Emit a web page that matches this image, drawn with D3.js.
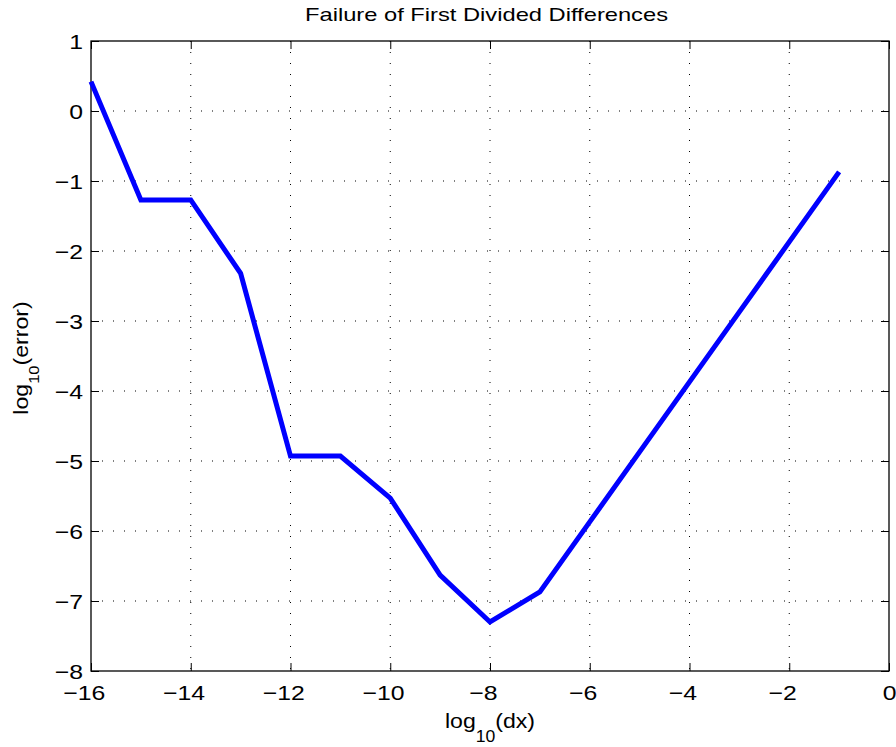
<!DOCTYPE html>
<html>
<head>
<meta charset="utf-8">
<script src="https://cdn.jsdelivr.net/npm/d3@7"></script>
<style>
  body { margin: 0; background: #fff; }
  svg { font-family: "Liberation Sans", Arial, sans-serif; }
</style>
</head>
<body>
<div id="chart"></div>
<script>
// data
const logDx = [-16, -15, -14, -13, -12, -11, -10, -9, -8, -7, -6, -5, -4, -3, -2, -1];
const logErr = [0.42, -1.27, -1.27, -2.32, -4.93, -4.93, -5.53, -6.63, -7.3, -6.87, -5.87, -4.87, -3.87, -2.87, -1.87, -0.87];
const xTicks = [-16, -14, -12, -10, -8, -6, -4, -2, 0];
const yTicks = [1, 0, -1, -2, -3, -4, -5, -6, -7, -8];

const svgWidth = 896;
const svgHeight = 747;
const margin = { top: 41, right: 7, bottom: 76, left: 91 };
const chartWidth = svgWidth - margin.left - margin.right;
const chartHeight = svgHeight - margin.top - margin.bottom;

const tickFont = 21;
const stretch = 1.18; // reference glyphs are a bit wider than Liberation Sans

const svg = d3.select("#chart").append("svg")
  .attr("width", svgWidth)
  .attr("height", svgHeight);

const chartGroup = svg.append("g")
  .attr("transform", `translate(${margin.left}, ${margin.top})`);

const xScale = d3.scaleLinear().domain([-16, 0]).range([0, chartWidth]);
const yScale = d3.scaleLinear().domain([-8, 1]).range([chartHeight, 0]);

const minus = v => String(v).replace("-", "\u2212");

function textW(str, size) {
  const t = svg.append("text").style("font-size", size + "px").text(str);
  const w = t.node().getComputedTextLength();
  t.remove();
  return w;
}

// grid
chartGroup.append("g").selectAll("line")
  .data(xTicks.slice(1, -1))
  .enter().append("line")
  .attr("x1", d => xScale(d)).attr("x2", d => xScale(d))
  .attr("y1", 0).attr("y2", chartHeight)
  .attr("stroke", "#000").attr("stroke-width", 1)
  .attr("stroke-dasharray", "1,10");

chartGroup.append("g").selectAll("line")
  .data(yTicks.slice(1, -1))
  .enter().append("line")
  .attr("y1", d => yScale(d)).attr("y2", d => yScale(d))
  .attr("x1", 0).attr("x2", chartWidth)
  .attr("stroke", "#000").attr("stroke-width", 1)
  .attr("stroke-dasharray", "1,10");

// axes, ticks inward on all four sides
const tickLen = 8;
const xAxis = d3.axisBottom(xScale).tickValues(xTicks).tickSizeInner(-tickLen).tickSizeOuter(0).tickFormat(minus);
const yAxis = d3.axisLeft(yScale).tickValues(yTicks).tickSizeInner(-tickLen).tickSizeOuter(0).tickFormat(minus);

const gx = chartGroup.append("g")
  .attr("transform", `translate(0,${chartHeight})`)
  .call(xAxis);
const gy = chartGroup.append("g").call(yAxis);

chartGroup.append("g")
  .call(d3.axisTop(xScale).tickValues(xTicks).tickSizeInner(-tickLen).tickSizeOuter(0).tickFormat(""));
chartGroup.append("g")
  .attr("transform", `translate(${chartWidth},0)`)
  .call(d3.axisRight(yScale).tickValues(yTicks).tickSizeInner(-tickLen).tickSizeOuter(0).tickFormat(""));

chartGroup.selectAll(".domain").remove();
chartGroup.selectAll(".tick line").attr("stroke", "#000").attr("stroke-width", 1);
[gx, gy].forEach(g => g.selectAll(".tick text")
  .attr("fill", "#000")
  .style("font-size", tickFont + "px")
  .style("font-family", "'Liberation Sans', Arial, sans-serif"));

// x labels: digits centred on the tick, minus sign hangs to the left
gx.selectAll(".tick text").each(function(d) {
  const dw = textW(String(Math.abs(d)), tickFont);
  d3.select(this)
    .attr("text-anchor", "end")
    .attr("x", dw / 2)
    .attr("y", 29)
    .attr("dy", 0)
    .attr("transform", `scale(${stretch},1)`);
});
gy.selectAll(".tick text")
  .attr("x", -8 / stretch)
  .attr("dy", "0.36em")
  .attr("transform", `scale(${stretch},1)`);

// box
chartGroup.append("rect")
  .attr("width", chartWidth).attr("height", chartHeight)
  .attr("fill", "none").attr("stroke", "#000").attr("stroke-width", 1.3);

// the line
const line = d3.line()
  .x((d, i) => xScale(logDx[i]))
  .y(d => yScale(d));

chartGroup.append("path")
  .datum(logErr)
  .attr("d", line)
  .attr("fill", "none")
  .attr("stroke", "#0000ff")
  .attr("stroke-width", 5)
  .attr("stroke-linejoin", "miter");

// title
svg.append("text")
  .attr("x", 486.5)
  .attr("y", 21)
  .attr("text-anchor", "middle")
  .style("font-size", "19px")
  .attr("textLength", 363)
  .attr("lengthAdjust", "spacingAndGlyphs")
  .text("Failure of First Divided Differences");

// axis labels
const xl = svg.append("g")
  .attr("transform", `translate(${margin.left + chartWidth / 2}, 728) scale(1.1,1)`)
  .append("text")
  .attr("text-anchor", "middle")
  .style("font-size", "21px");
xl.append("tspan").text("log");
xl.append("tspan").attr("dy", 14).style("font-size", "16px").text("10");
xl.append("tspan").attr("dy", -14).text("(dx)");

const yl = svg.append("g")
  .attr("transform", `translate(28, ${margin.top + chartHeight / 2 + 2}) rotate(-90) scale(1.1,1)`)
  .append("text")
  .attr("text-anchor", "middle")
  .style("font-size", "21px");
yl.append("tspan").text("log");
yl.append("tspan").attr("dy", 11).style("font-size", "15px").text("10");
yl.append("tspan").attr("dy", -11).text("(error)");
</script>
</body>
</html>
